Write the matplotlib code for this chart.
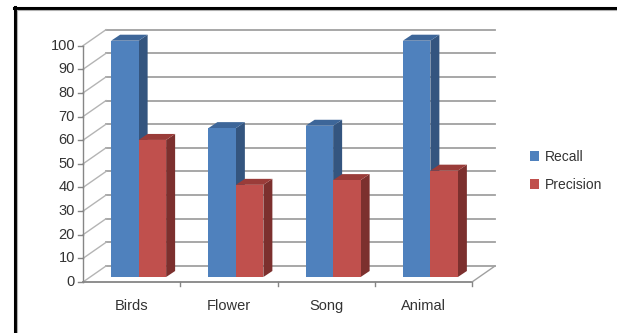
import matplotlib.pyplot as plt
from matplotlib.patches import Polygon, Patch
from matplotlib.lines import Line2D

categories = ["Birds", "Flower", "Song", "Animal"]
recall = [100, 63, 64, 100]
precision = [58, 39, 41, 45]
yticks = [0, 10, 20, 30, 40, 50, 60, 70, 80, 90, 100]

plt.rcParams['font.family'] = ['Liberation Sans', 'DejaVu Sans']

W, H = 617, 333
fig = plt.figure(figsize=(W / 100, H / 100), dpi=100)
fig.patch.set_facecolor('white')

left, right, base, top = 90, 479, 277, 40.7
ax = fig.add_axes([left / W, (H - base) / H, (right - left) / W, (base - top) / H])
ax.set_xlim(-0.5, 3.5)
ax.set_ylim(0, 100)
ax.axis('off')

ux = (right - left) / 4.0
uy = (base - top) / 100.0


def dx(px):
    return px / ux


def dy(py):
    return py / uy


front = (-7, -5)
back = (16, 11)
depth = (9, 6)
grid_c = '#a0a0a0'
axis_c = '#868686'
text_c = '#333333'

x0, x1 = -0.5, 3.5
fx, fy = dx(front[0]), dy(front[1])
bx, by = dx(back[0]), dy(back[1])

# back wall gridlines and left wall diagonals
for v in yticks:
    ax.plot([x0 + bx, x1 + bx], [v + by, v + by], color=grid_c, lw=1.3,
            clip_on=False, zorder=1)
    ax.plot([x0 + fx, x0 + bx], [v + fy, v + by], color='#b4b4b4', lw=1.0,
            clip_on=False, zorder=1)
    ax.plot([x0 + fx - dx(5), x0 + fx], [v + fy, v + fy], color=axis_c, lw=1.0,
            clip_on=False, zorder=1)
    ax.text(x0 + fx - dx(8), v + fy, str(v), ha='right', va='center',
            fontsize=10.5, color=text_c)

# front axis, floor
ax.plot([x0 + fx, x0 + fx], [fy, 100 + fy], color=axis_c, lw=1.0, clip_on=False, zorder=1)
ax.plot([x0 + fx, x1 + fx], [fy, fy], color=axis_c, lw=1.3, clip_on=False, zorder=1)
ax.plot([x1 + fx, x1 + bx], [fy, by], color=grid_c, lw=1.0, clip_on=False, zorder=1)
for k in range(1, 5):
    xb = k - 0.5 + fx
    ax.plot([xb, xb], [fy, fy - dy(4)], color=axis_c, lw=1.0, clip_on=False, zorder=1)

for i, c in enumerate(categories):
    ax.text(i + fx, fy - dy(24), c, ha='center', va='center', fontsize=10.5, color=text_c)

# 3d-looking bars
w = 27.5 / ux
series = [
    (recall, -w, ('#4f81bd', '#34557f', '#3d6699')),
    (precision, 0, ('#c0504d', '#7c302e', '#9a3c39')),
]
z = 3
for i in range(len(categories)):
    for vals, shift, (cf, cs, ct) in series:
        v = vals[i]
        xl = i + shift
        xr = xl + w
        ddx, ddy = dx(depth[0]), dy(depth[1])
        ax.add_patch(Polygon([(xr, 0), (xr, v), (xr + ddx, v + ddy), (xr + ddx, ddy)],
                             closed=True, facecolor=cs, edgecolor='none', zorder=z,
                             clip_on=False))
        ax.add_patch(Polygon([(xl, v), (xr, v), (xr + ddx, v + ddy), (xl + ddx, v + ddy)],
                             closed=True, facecolor=ct, edgecolor='none', zorder=z,
                             clip_on=False))
        ax.bar(xl, v, width=w, align='edge', color=cf, edgecolor='none', zorder=z + 1,
               clip_on=False)
        z += 2

handles = [Patch(facecolor='#4f81bd', edgecolor='none'),
           Patch(facecolor='#c0504d', edgecolor='none')]
fig.legend(handles, ['Recall', 'Precision'], loc='center left',
           bbox_to_anchor=(517 / W, 1 - 171 / H), frameon=False, fontsize=10,
           handlelength=0.7, handleheight=0.7, handletextpad=0.4, labelspacing=1.0,
           labelcolor=text_c)

# outer frame (black top and left edges with a grey inner line)
fig.add_artist(Line2D([14 / W, 1], [1 - 8 / H, 1 - 8 / H], color='black', lw=2.2,
                      transform=fig.transFigure))
fig.add_artist(Line2D([14 / W, 1], [1 - 10 / H, 1 - 10 / H], color='#b0b0b0', lw=0.8,
                      transform=fig.transFigure))
fig.add_artist(Line2D([14.5 / W, 14.5 / W], [0, 1 - 7 / H], color='black', lw=2.2,
                      transform=fig.transFigure))
fig.add_artist(Line2D([16.5 / W, 16.5 / W], [0, 1 - 10 / H], color='#b0b0b0', lw=0.8,
                      transform=fig.transFigure))

fig.savefig('out.png', dpi=100)
